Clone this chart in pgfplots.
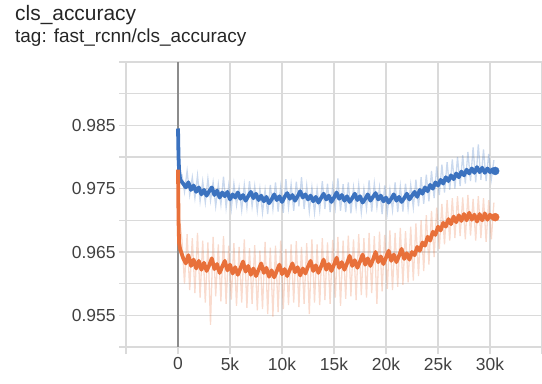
\documentclass[border=0pt]{standalone}
\usepackage{pgfplots}
\pgfplotsset{compat=1.18}
\usepackage{fontspec}
\setmainfont{Liberation Sans}
\definecolor{tbblue}{HTML}{3B72BF}
\definecolor{tborange}{HTML}{E8703A}
\definecolor{gridc}{HTML}{DADADA}
\definecolor{txt}{HTML}{404040}
\begin{document}
\begin{tikzpicture}[x=1bp,y=1bp]
\begin{axis}[at={(126bp,36bp)}, anchor=south west, scale only axis,
  width=416bp, height=285bp,
  xmin=-5000, xmax=35000, ymin=0.95, ymax=0.995,
  xtick={-5000,0,5000,10000,15000,20000,25000,30000,35000},
  xticklabels={,0,5k,10k,15k,20k,25k,30k,},
  ytick={0.955,0.965,0.975,0.985},
  yticklabels={0.955,0.965,0.975,0.985},
  minor ytick={0.95,0.96,0.97,0.98,0.99,0.995},
  grid=both,
  major grid style={gridc, line width=1.2bp},
  minor grid style={gridc, line width=1.2bp},
  axis line style={draw=none},
  tick align=outside, tick pos=left,
  major tick length=7bp, minor tick length=7bp,
  tick style={gridc, line width=1.2bp},
  ticklabel style={font=\fontsize{17.5}{20}\selectfont, text=txt},
  scaled x ticks=false, scaled y ticks=false,
  clip=false,
]
\draw[black!45, line width=1.5bp] (axis cs:0,0.95) -- (axis cs:0,0.995);
% light blue (raw)
\addplot[tbblue, opacity=0.27, line width=1.3bp] coordinates {
(0,0.9845)(125,0.9770)(375,0.9772)(625,0.9745)(875,0.9778)(1125,0.9740)(1375,0.9768)(1625,0.9735)(1875,0.9771)(2125,0.9730)(2375,0.9762)(2625,0.9728)(2875,0.9766)(3125,0.9731)(3375,0.9760)(3625,0.9722)(3875,0.9757)(4125,0.9725)(4375,0.9769)(4625,0.9720)(4875,0.9755)
(5125,0.9718)(5375,0.9758)(5625,0.9724)(5875,0.9752)(6125,0.9716)(6375,0.9756)(6625,0.9720)(6875,0.9762)(7125,0.9722)(7375,0.9754)(7625,0.9715)(7875,0.9750)(8125,0.9712)(8375,0.9748)(8625,0.9710)(8875,0.9756)(9125,0.9718)(9375,0.9760)(9625,0.9714)(9875,0.9753)
(10125,0.9712)(10375,0.9765)(10625,0.9720)(10875,0.9757)(11125,0.9715)(11375,0.9761)(11625,0.9722)(11875,0.9768)(12125,0.9718)(12375,0.9755)(12625,0.9714)(12875,0.9752)(13125,0.9712)(13375,0.9750)(13625,0.9716)(13875,0.9762)(14125,0.9718)(14375,0.9758)(14625,0.9713)(14875,0.9754)
(15125,0.9720)(15375,0.9766)(15625,0.9715)(15875,0.9757)(16125,0.9713)(16375,0.9760)(16625,0.9711)(16875,0.9752)(17125,0.9719)(17375,0.9756)(17625,0.9712)(17875,0.9750)(18125,0.9718)(18375,0.9763)(18625,0.9714)(18875,0.9758)(19125,0.9720)(19375,0.9752)(19625,0.9710)(19875,0.9755)
(20125,0.9712)(20375,0.9749)(20625,0.9716)(20875,0.9760)(21125,0.9713)(21375,0.9754)(21625,0.9714)(21875,0.9758)(22125,0.9718)(22375,0.9756)(22625,0.9720)(22875,0.9764)(23125,0.9722)(23375,0.9768)(23625,0.9726)(23875,0.9772)(24125,0.9730)(24375,0.9778)(24625,0.9735)(24875,0.9785)
(25125,0.9740)(25375,0.9788)(25625,0.9744)(25875,0.9792)(26125,0.9748)(26375,0.9796)(26625,0.9750)(26875,0.9800)(27125,0.9754)(27375,0.9803)(27625,0.9758)(27875,0.9808)(28125,0.9762)(28375,0.9815)(28625,0.9760)(28875,0.9820)(29125,0.9764)(29375,0.9812)(29625,0.9762)(29875,0.9805)
(30125,0.9765)(30375,0.9795)
};
% light orange (raw)
\addplot[tborange, opacity=0.25, line width=1.3bp] coordinates {
(0,0.9780)(125,0.9705)(375,0.9670)(625,0.9600)(875,0.9678)(1125,0.9590)(1375,0.9672)(1625,0.9585)(1875,0.9680)(2125,0.9578)(2375,0.9668)(2625,0.9570)(2875,0.9665)(3125,0.9535)(3375,0.9674)(3625,0.9580)(3875,0.9662)(4125,0.9572)(4375,0.9675)(4625,0.9568)(4875,0.9660)
(5125,0.9575)(5375,0.9664)(5625,0.9565)(5875,0.9658)(6125,0.9570)(6375,0.9670)(6625,0.9562)(6875,0.9656)(7125,0.9568)(7375,0.9661)(7625,0.9558)(7875,0.9652)(8125,0.9560)(8375,0.9666)(8625,0.9552)(8875,0.9657)(9125,0.9548)(9375,0.9660)(9625,0.9555)(9875,0.9668)
(10125,0.9560)(10375,0.9655)(10625,0.9566)(10875,0.9662)(11125,0.9570)(11375,0.9667)(11625,0.9563)(11875,0.9658)(12125,0.9568)(12375,0.9664)(12625,0.9552)(12875,0.9670)(13125,0.9570)(13375,0.9662)(13625,0.9566)(13875,0.9672)(14125,0.9574)(14375,0.9665)(14625,0.9568)(14875,0.9669)
(15125,0.9578)(15375,0.9674)(15625,0.9565)(15875,0.9668)(16125,0.9576)(16375,0.9676)(16625,0.9580)(16875,0.9670)(17125,0.9574)(17375,0.9678)(17625,0.9582)(17875,0.9672)(18125,0.9578)(18375,0.9680)(18625,0.9585)(18875,0.9675)(19125,0.9568)(19375,0.9682)(19625,0.9588)(19875,0.9677)
(20125,0.9592)(20375,0.9684)(20625,0.9590)(20875,0.9680)(21125,0.9595)(21375,0.9688)(21625,0.9598)(21875,0.9683)(22125,0.9602)(22375,0.9690)(22625,0.9605)(22875,0.9695)(23125,0.9612)(23375,0.9700)(23625,0.9620)(23875,0.9708)(24125,0.9630)(24375,0.9715)(24625,0.9642)(24875,0.9720)
(25125,0.9655)(25375,0.9726)(25625,0.9662)(25875,0.9732)(26125,0.9668)(26375,0.9735)(26625,0.9672)(26875,0.9738)(27125,0.9675)(27375,0.9736)(27625,0.9670)(27875,0.9740)(28125,0.9676)(28375,0.9734)(28625,0.9668)(28875,0.9738)(29125,0.9672)(29375,0.9735)(29625,0.9666)(29875,0.9732)
(30125,0.9670)(30375,0.9728)
};
% dark blue (smoothed)
\addplot[tbblue, line width=3.8bp, line join=round] coordinates {
(0,0.9845)(50,0.9800)(100,0.9780)(200,0.9765)(300,0.9762)(500,0.9758)(750,0.9752)(1000,0.9760)(1250,0.9748)(1500,0.9755)(1750,0.9745)(2000,0.9752)(2250,0.9741)(2500,0.9748)(2750,0.9739)(3000,0.9746)(3250,0.9752)(3500,0.9740)(3750,0.9747)(4000,0.9736)(4250,0.9744)(4500,0.9738)(4750,0.9745)
(5000,0.9733)(5250,0.9741)(5500,0.9736)(5750,0.9744)(6000,0.9734)(6250,0.9740)(6500,0.9731)(6750,0.9738)(7000,0.9745)(7250,0.9735)(7500,0.9742)(7750,0.9732)(8000,0.9739)(8250,0.9730)(8500,0.9737)(8750,0.9727)(9000,0.9733)(9250,0.9741)(9500,0.9732)(9750,0.9738)
(10000,0.9729)(10250,0.9737)(10500,0.9743)(10750,0.9734)(11000,0.9740)(11250,0.9731)(11500,0.9738)(11750,0.9746)(12000,0.9736)(12250,0.9741)(12500,0.9733)(12750,0.9739)(13000,0.9730)(13250,0.9737)(13500,0.9728)(13750,0.9735)(14000,0.9742)(14250,0.9733)(14500,0.9739)(14750,0.9729)
(15000,0.9736)(15250,0.9744)(15500,0.9734)(15750,0.9740)(16000,0.9731)(16250,0.9738)(16500,0.9729)(16750,0.9735)(17000,0.9742)(17250,0.9732)(17500,0.9738)(17750,0.9728)(18000,0.9734)(18250,0.9741)(18500,0.9731)(18750,0.9737)(19000,0.9743)(19250,0.9733)(19500,0.9739)(19750,0.9730)
(20000,0.9736)(20250,0.9728)(20500,0.9734)(20750,0.9741)(21000,0.9731)(21250,0.9737)(21500,0.9729)(21750,0.9735)(22000,0.9742)(22250,0.9733)(22500,0.9739)(22750,0.9745)(23000,0.9737)(23250,0.9748)(23500,0.9742)(23750,0.9752)(24000,0.9746)(24250,0.9756)(24500,0.9750)(24750,0.9760)
(25000,0.9755)(25250,0.9764)(25500,0.9758)(25750,0.9768)(26000,0.9762)(26250,0.9771)(26500,0.9765)(26750,0.9774)(27000,0.9768)(27250,0.9777)(27500,0.9771)(27750,0.9780)(28000,0.9774)(28250,0.9782)(28500,0.9775)(28750,0.9784)(29000,0.9776)(29250,0.9783)(29500,0.9775)(29750,0.9782)
(30000,0.9776)(30250,0.9781)(30500,0.9778)
};
% dark orange (smoothed)
\addplot[tborange, line width=3.8bp, line join=round] coordinates {
(0,0.9780)(50,0.9700)(100,0.9665)(200,0.9655)(300,0.9650)(500,0.9640)(750,0.9632)(1000,0.9645)(1250,0.9628)(1500,0.9638)(1750,0.9624)(2000,0.9636)(2250,0.9622)(2500,0.9633)(2750,0.9620)(3000,0.9629)(3250,0.9640)(3500,0.9623)(3750,0.9631)(4000,0.9617)(4250,0.9627)(4500,0.9636)(4750,0.9621)
(5000,0.9630)(5250,0.9616)(5500,0.9626)(5750,0.9614)(6000,0.9624)(6250,0.9635)(6500,0.9619)(6750,0.9628)(7000,0.9614)(7250,0.9624)(7500,0.9612)(7750,0.9622)(8000,0.9632)(8250,0.9617)(8500,0.9625)(8750,0.9611)(9000,0.9621)(9250,0.9610)(9500,0.9620)(9750,0.9630)
(10000,0.9615)(10250,0.9623)(10500,0.9612)(10750,0.9622)(11000,0.9632)(11250,0.9618)(11500,0.9626)(11750,0.9613)(12000,0.9624)(12250,0.9616)(12500,0.9627)(12750,0.9636)(13000,0.9620)(13250,0.9629)(13500,0.9617)(13750,0.9627)(14000,0.9638)(14250,0.9622)(14500,0.9631)(14750,0.9620)
(15000,0.9630)(15250,0.9641)(15500,0.9625)(15750,0.9634)(16000,0.9622)(16250,0.9632)(16500,0.9644)(16750,0.9628)(17000,0.9637)(17250,0.9625)(17500,0.9635)(17750,0.9646)(18000,0.9630)(18250,0.9640)(18500,0.9628)(18750,0.9638)(19000,0.9650)(19250,0.9634)(19500,0.9643)(19750,0.9631)
(20000,0.9641)(20250,0.9652)(20500,0.9636)(20750,0.9646)(21000,0.9634)(21250,0.9644)(21500,0.9655)(21750,0.9639)(22000,0.9648)(22250,0.9638)(22500,0.9650)(22750,0.9645)(23000,0.9658)(23250,0.9652)(23500,0.9665)(23750,0.9660)(24000,0.9674)(24250,0.9668)(24500,0.9682)(24750,0.9677)
(25000,0.9690)(25250,0.9684)(25500,0.9696)(25750,0.9690)(26000,0.9702)(26250,0.9694)(26500,0.9706)(26750,0.9697)(27000,0.9708)(27250,0.9699)(27500,0.9710)(27750,0.9700)(28000,0.9712)(28250,0.9701)(28500,0.9709)(28750,0.9698)(29000,0.9710)(29250,0.9700)(29500,0.9711)(29750,0.9701)
(30000,0.9709)(30250,0.9703)(30500,0.9705)
};
\addplot[only marks, mark=*, mark size=4bp, tbblue] coordinates {(30500,0.9778)};
\addplot[only marks, mark=*, mark size=4bp, tborange] coordinates {(30500,0.9705)};
\end{axis}
\node[anchor=base west, inner sep=0, font=\fontsize{21}{24}\selectfont, text=black!85] at (15,363) {cls\_accuracy};
\node[anchor=base west, inner sep=0, font=\fontsize{19}{22}\selectfont, text=black!85] at (15,341) {tag: fast\_rcnn/cls\_accuracy};
\pgfresetboundingbox
\path (0,0) rectangle (542,383);
\end{tikzpicture}
\end{document}
